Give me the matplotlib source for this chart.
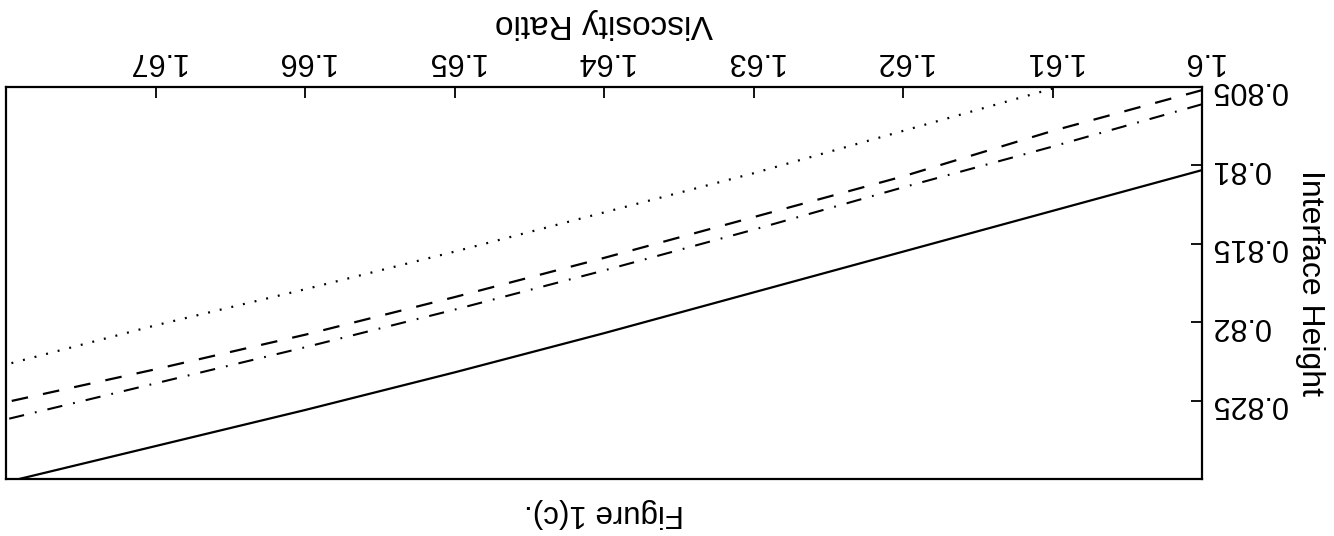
import matplotlib
matplotlib.use("Agg")
import matplotlib.pyplot as plt
from matplotlib.ticker import FixedLocator, FixedFormatter

plt.rcParams['font.family'] = ['Liberation Sans', 'DejaVu Sans']
plt.rcParams['lines.scale_dashes'] = False

# Viscosity ratio samples
viscosity = [1.60, 1.61, 1.62, 1.63, 1.64, 1.65, 1.66, 1.67, 1.68]

# Interface height for each case
height_solid = [0.8103, 0.8129, 0.8155, 0.8181, 0.8207, 0.8232, 0.8256, 0.8279, 0.8302]
height_dashed = [0.8052, 0.8078, 0.8107, 0.8133, 0.8159, 0.8184, 0.8208, 0.8230, 0.8251]
height_dashdot = [0.8061, 0.8088, 0.8114, 0.8141, 0.8167, 0.8192, 0.8216, 0.8239, 0.8262]
height_dotted = [0.8024, 0.8051, 0.8078, 0.8105, 0.8130, 0.8155, 0.8179, 0.8202, 0.8227]

x_ticks = [1.60, 1.61, 1.62, 1.63, 1.64, 1.65, 1.66, 1.67]
x_labels = ["1.6", "1.61", "1.62", "1.63", "1.64", "1.65", "1.66", "1.67"]
y_ticks = [0.805, 0.81, 0.815, 0.82, 0.825]
y_labels = ["0.805", "0.81", "0.815", "0.82", "0.825"]

fig = plt.figure(figsize=(13.34, 5.36), dpi=100)
ax = fig.add_axes([0.0045, 0.1063, 0.8966, 0.7314])

ax.plot(viscosity, height_solid, color='black', lw=1.6, solid_capstyle='butt')
ax.plot(viscosity, height_dashed, color='black', lw=1.6, dashes=(12, 11))
ax.plot(viscosity, height_dashdot, color='black', lw=1.5, dashes=(11, 8, 1.3, 8))
ax.plot(viscosity, height_dotted, color='black', lw=1.6, dashes=(1.4, 7.2))

# Figure is presented turned half a revolution
ax.set_xlim(1.68, 1.60)
ax.set_ylim(0.83, 0.805)

ax.xaxis.set_major_locator(FixedLocator(x_ticks))
ax.xaxis.set_major_formatter(FixedFormatter(x_labels))
ax.yaxis.set_major_locator(FixedLocator(y_ticks))
ax.yaxis.set_major_formatter(FixedFormatter(y_labels))

ax.xaxis.tick_top()
ax.xaxis.set_label_position('top')
ax.yaxis.tick_right()
ax.yaxis.set_label_position('right')

ax.tick_params(axis='both', direction='in', length=8, width=1.3, labelsize=22,
               labelrotation=180)
ax.tick_params(axis='x', pad=8)
ax.tick_params(axis='y', pad=6)

for sp in ax.spines.values():
    sp.set_linewidth(1.6)

ax.set_xlabel('Viscosity Ratio', fontsize=24, rotation=180, labelpad=10)
ax.set_ylabel('Interface Height', fontsize=23, rotation=270, labelpad=6, va='bottom')

fig.text(0.453, 0.043, 'Figure 1(c).', fontsize=22.5, rotation=180,
         ha='center', va='center')

fig.savefig('out.png', dpi=100)
